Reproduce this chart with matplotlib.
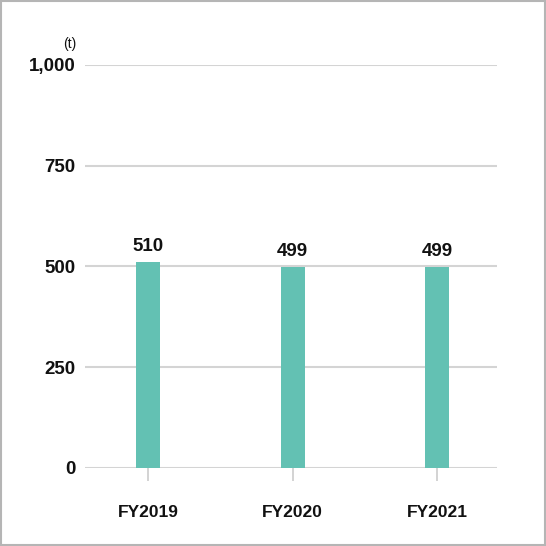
import matplotlib
matplotlib.use("Agg")
import matplotlib.pyplot as plt
from matplotlib.patches import Rectangle

years = ["FY2019", "FY2020", "FY2021"]
values = [510, 499, 499]
yticks = [0, 250, 500, 750, 1000]

plt.rcParams['font.family'] = ['Liberation Sans', 'DejaVu Sans']

fig = plt.figure(figsize=(5.46, 5.46), dpi=100)
ax = fig.add_axes([0.1557, 0.1429, 0.7546, 0.7381])

x = range(len(years))
ax.bar(x, values, width=0.166, color="#63c1b3", zorder=3)
for xi, v in zip(x, values):
    ax.text(xi, v + 18, f"{v:,}", ha="center", va="bottom",
            fontsize=13.5, fontweight="bold", color="#111111")

ax.set_xlim(-0.436, 2.415)
ax.set_ylim(0, 1000)
ax.set_yticks(yticks)
ax.set_yticklabels([f"{t:,}" for t in yticks], fontsize=13.5, fontweight="bold", color="#111111")
ax.set_xticks(list(x))
ax.set_xticklabels(years, fontsize=12.5, fontweight="bold", color="#111111")
ax.grid(axis="y", color="#d4d4d4", linewidth=1.5, zorder=0)
ax.tick_params(axis="y", length=0, pad=7)
ax.tick_params(axis="x", length=9, width=1.2, color="#cccccc", pad=18)
for s in ax.spines.values():
    s.set_visible(False)
ax.text(-0.022, 1.035, "(t)", transform=ax.transAxes, ha="right", va="bottom",
        fontsize=10, color="#111111")

fig.patches.append(Rectangle((0.001, 0.001), 0.997, 0.997, transform=fig.transFigure,
                             fill=False, edgecolor="#b5b5b5", linewidth=1.5))

fig.savefig("out.png", dpi=100)
